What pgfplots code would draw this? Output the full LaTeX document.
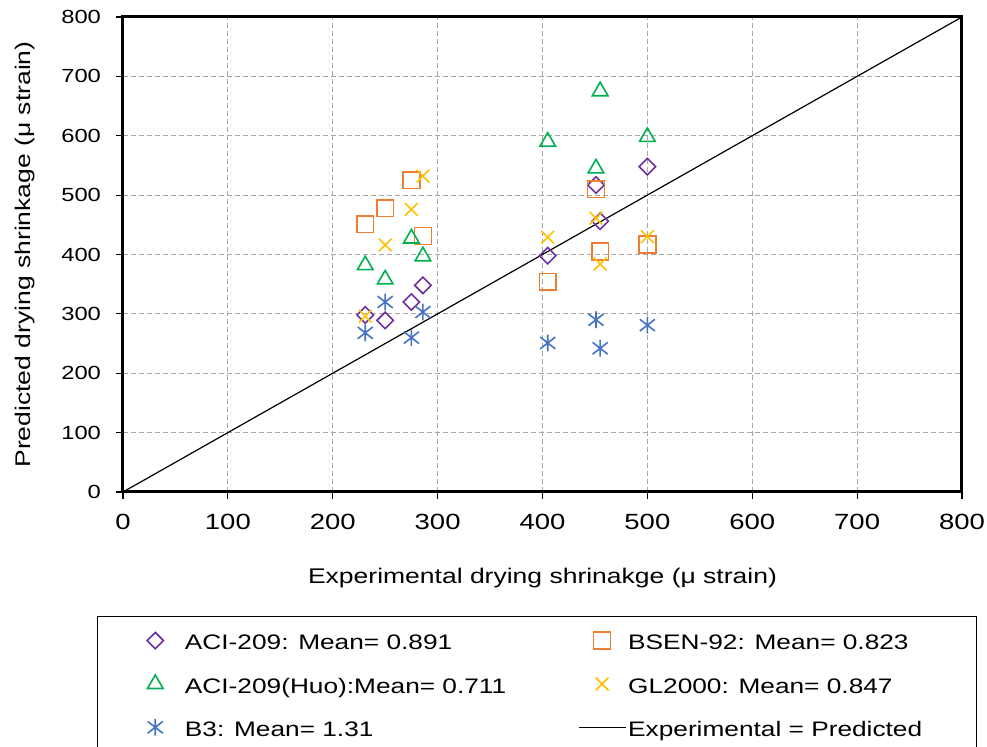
\documentclass[border=0pt]{standalone}
\usepackage{pgfplots}
\pgfplotsset{compat=1.18}
\usepackage{fontspec}
\setmainfont{Liberation Sans}[FakeStretch=1.25]
\usetikzlibrary{plotmarks}

\definecolor{aci}{HTML}{7030A0}
\definecolor{bsen}{HTML}{ED7D31}
\definecolor{huo}{HTML}{00B050}
\definecolor{gl}{HTML}{FFC000}
\definecolor{bthree}{HTML}{4472C4}
\definecolor{gridgray}{HTML}{A6A6A6}

% star marker: vertical bar crossed by an x
\pgfdeclareplotmark{xstar}{%
  \pgfpathmoveto{\pgfqpoint{0pt}{\pgfplotmarksize}}%
  \pgfpathlineto{\pgfqpoint{0pt}{-\pgfplotmarksize}}%
  \pgfpathmoveto{\pgfqpoint{-.9\pgfplotmarksize}{.7\pgfplotmarksize}}%
  \pgfpathlineto{\pgfqpoint{.9\pgfplotmarksize}{-.7\pgfplotmarksize}}%
  \pgfpathmoveto{\pgfqpoint{-.9\pgfplotmarksize}{-.7\pgfplotmarksize}}%
  \pgfpathlineto{\pgfqpoint{.9\pgfplotmarksize}{.7\pgfplotmarksize}}%
  \pgfusepathqstroke}

\begin{document}
\begin{tikzpicture}
\begin{axis}[
  at={(0,0)}, anchor=south west,
  scale only axis, width=419.5pt, height=237.5pt,
  xmin=0, xmax=800, ymin=0, ymax=800,
  xtick={0,100,...,800}, ytick={0,100,...,800},
  grid=major,
  grid style={gridgray, line width=0.5pt, dash pattern=on 2.5pt off 1.5pt},
  axis line style={black, line width=1.5pt},
  tick align=outside, xtick pos=bottom, ytick pos=left,
  major tick length=3.5pt,
  tick style={black, line width=0.6pt},
  /pgf/number format/assume math mode=true,
  xticklabel style={font=\fontsize{11}{13}\selectfont, yshift=-4pt},
  yticklabel style={font=\fontsize{9.5}{11}\selectfont, xshift=-4pt},
  xlabel={Experimental drying shrinakge (μ strain)},
  ylabel={Predicted drying shrinkage (μ strain)},
  label style={font=\fontsize{10.6}{12}\selectfont},
  xlabel style={at={(axis description cs:0.5,-0.181)}, anchor=center},
  ylabel style={at={(axis description cs:-0.1168,0.5)}, anchor=center},
  legend columns=2,
  legend cell align=left,
  legend image code/.code={%
    \draw[mark repeat=2,mark phase=2,#1]
      plot coordinates {(0pt,0pt) (11.75pt,0pt) (23.5pt,0pt)};},
  legend style={
    at={(axis description cs:-0.031,-0.2611)}, anchor=north west,
    draw=black, line width=0.6pt,
    font=\fontsize{10.5}{12}\selectfont,
    inner xsep=24.75pt, inner ysep=4.65pt,
    column sep=1pt, row sep=6.97pt,
    nodes={inner sep=0pt, text height=12pt, text depth=2.7pt},
  },
]

% ACI-209
\addplot[only marks, mark=square, mark size=2.9pt,
  mark options={rotate=45, aci, line width=0.8pt}] coordinates {
  (231,298) (250,289) (275,320) (286,348)
  (405,398) (451,517) (455,456) (500,548)};
\addlegendentry{\hspace{9.75pt}\makebox[195.5pt][l]{ACI-209: Mean= 0.891}}

% BSEN-92
\addplot[only marks, mark=square, mark size=4.2pt,
  mark options={bsen, line width=0.8pt}] coordinates {
  (231,451) (250,478) (275,525) (286,431)
  (405,354) (451,510) (455,405) (500,417)};
\addlegendentry{\makebox[149.25pt][l]{BSEN-92: Mean= 0.823}}

% ACI-209 (Huo)
\addplot[only marks, mark=triangle, mark size=4.5pt,
  mark options={huo, line width=0.8pt}] coordinates {
  (231,382) (250,358) (275,427) (286,397)
  (405,590) (451,545) (455,675) (500,598)};
\addlegendentry{\hspace{9.75pt}\makebox[195.5pt][l]{ACI-209(Huo):Mean= 0.711}}

% GL2000
\addplot[only marks, mark=x, mark size=4.5pt,
  mark options={gl, line width=0.8pt}] coordinates {
  (231,296) (250,416) (275,476) (286,532)
  (405,429) (451,461) (455,384) (500,430)};
\addlegendentry{\makebox[149.25pt][l]{GL2000: Mean= 0.847}}

% B3
\addplot[only marks, mark=xstar, mark size=4.2pt,
  mark options={bthree, line width=0.8pt}] coordinates {
  (231,268) (250,320) (275,260) (286,303)
  (405,251) (451,290) (455,242) (500,281)};
\addlegendentry{\hspace{9.75pt}\makebox[195.5pt][l]{B3: Mean= 1.31}}

% line of equality
\addplot[black, line width=0.6pt, no markers] coordinates {(0,0) (800,800)};
\addlegendentry{\makebox[149.25pt][l]{Experimental = Predicted}}

\end{axis}
\pgfresetboundingbox
\useasboundingbox (-61.5pt,-127.5pt) rectangle (432pt,246pt);
\end{tikzpicture}
\end{document}
